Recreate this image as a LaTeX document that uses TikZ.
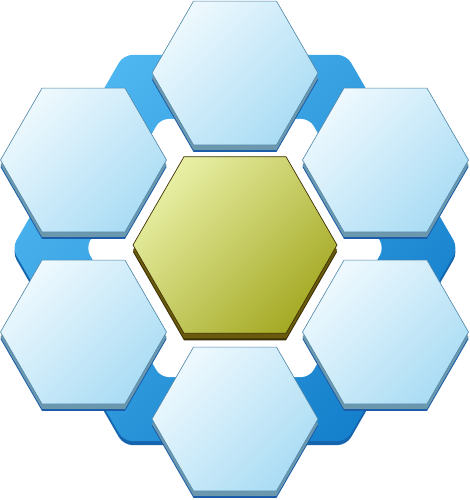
\documentclass[tikz,border=0pt]{standalone}
\usetikzlibrary{shapes.geometric,shadows}
\definecolor{hexlight}{HTML}{EEF9FE}
\definecolor{hexdark}{HTML}{AADCF4}
\definecolor{hexline}{HTML}{4C84A8}
\definecolor{hexside}{HTML}{6C98AE}
\definecolor{hexdeep}{HTML}{1B5DA8}
\definecolor{olivelight}{HTML}{E8EFA4}
\definecolor{olivedark}{HTML}{A5AA25}
\definecolor{oliveline}{HTML}{3D3000}
\definecolor{oliveside}{HTML}{6A5A0E}
\definecolor{olivedeep}{HTML}{3A2F04}
\definecolor{ringlight}{HTML}{4DB5EF}
\definecolor{ringdark}{HTML}{1580CC}
\definecolor{ringdeep}{HTML}{1565AE}
\begin{document}
\begin{tikzpicture}[x=1pt,y=-1pt,
  hexshape/.style={regular polygon, regular polygon sides=6, inner sep=0pt, outer sep=0pt},
  outerhex/.style={hexshape, minimum size=166pt,
    general shadow={fill=hexdeep, shadow xshift=0pt, shadow yshift=-7pt},
    general shadow={fill=hexside, shadow xshift=0pt, shadow yshift=-5pt},
    top color=hexlight, bottom color=hexdark, shading angle=45,
    draw=hexline, line width=0.6pt},
  centerhex/.style={hexshape, minimum size=204pt,
    general shadow={fill=olivedeep, shadow xshift=0pt, shadow yshift=-7pt},
    general shadow={fill=oliveside, shadow xshift=0pt, shadow yshift=-5pt},
    top color=olivelight, bottom color=olivedark, shading angle=45,
    draw=oliveline, line width=0.7pt},
  ringround/.style={rounded corners=9pt}]
\useasboundingbox (0,0) rectangle (469,500);
% blue hexagonal ring behind
\begin{scope}[shift={(235,252)}]
  \fill[ringdeep, ringround] (0:223) ++(-55.75,96.6) -- (60:223) -- (120:223) -- (180:223) -- (240:223) -- (300:223) -- (0:223) -- cycle;
\end{scope}
\begin{scope}[shift={(235,248)}]
  \shade[ringround, top color=ringlight, bottom color=ringdark, shading angle=45]
    (0:223) ++(-55.75,96.6) -- (60:223) -- (120:223) -- (180:223) -- (240:223) -- (300:223) -- (0:223) -- cycle;
  \fill[white, rounded corners=8pt]
    (0:149) ++(-37.25,64.5) -- (60:149) -- (120:149) -- (180:149) -- (240:149) -- (300:149) -- (0:149) -- cycle;
\end{scope}
% outer hexagons
\node[outerhex] (top) at (235,73) {};
\node[outerhex] (upleft) at (83.5,160) {};
\node[outerhex] (upright) at (385.5,160) {};
\node[outerhex] (lowleft) at (83.5,332) {};
\node[outerhex] (lowright) at (385.5,332) {};
\node[outerhex] (bottom) at (235,419) {};
% centre hexagon
\node[centerhex] (centre) at (235,245) {};
\end{tikzpicture}
\end{document}
